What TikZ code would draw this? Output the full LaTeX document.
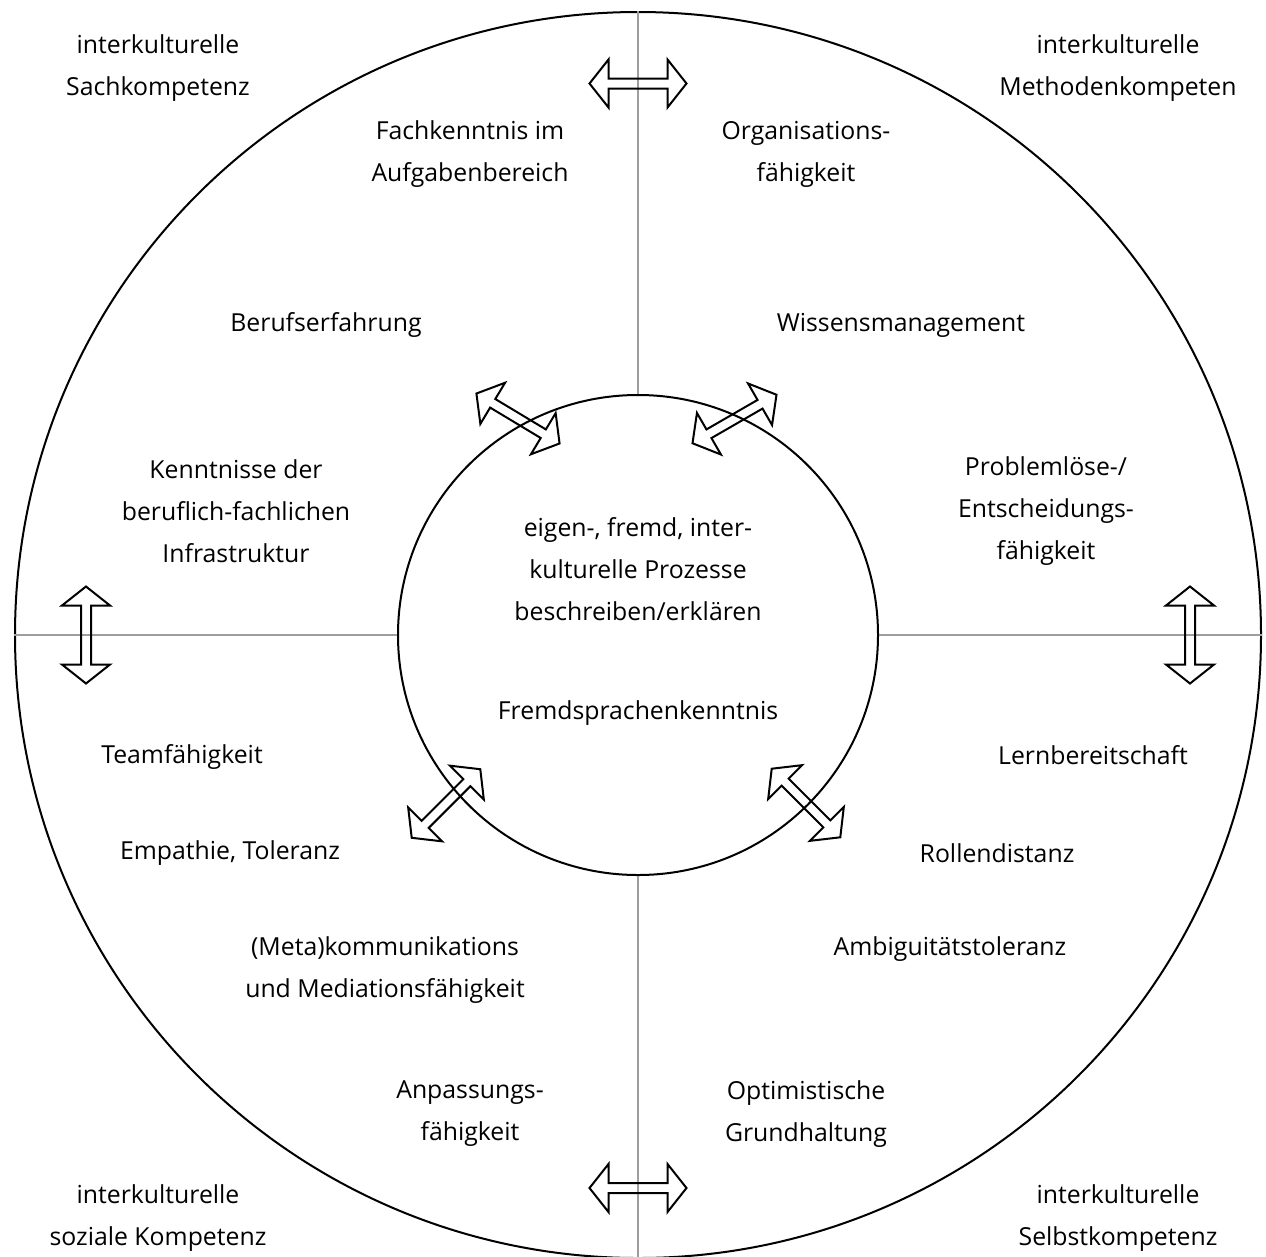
\documentclass[tikz,border=0pt]{standalone}
\usepackage{fontspec}
\setmainfont{Open Sans}
\begin{document}
\begin{tikzpicture}[x=1pt,y=-1pt,
  lbl/.style={align=center, font=\fontsize{24.8}{42}\selectfont, inner sep=0pt},
  ring/.style={circle, draw=black, line width=2pt, inner sep=0pt},
  axis/.style={draw=black!38, line width=1.6pt},
  arrowline/.style={draw=black, line width=2pt, line join=miter},
  dblarrow/.pic={\draw[arrowline] (-48.5,0) -- (-29.5,24) -- (-29.5,5) -- (29.5,5) -- (29.5,24) -- (48.5,0) -- (29.5,-24) -- (29.5,-5) -- (-29.5,-5) -- (-29.5,-24) -- cycle;}]
\clip (0,0) rectangle (1266,1256);
\fill[white] (0,0) rectangle (1266,1256);
\node[ring, minimum size=1246pt] (outer) at (638,635) {};
\node[ring, minimum size=480pt] (inner) at (638,635) {};
\draw[axis] (outer.north) -- (inner.north);
\draw[axis] (inner.south) -- (outer.south);
\draw[axis] (outer.west) -- (inner.west);
\draw[axis] (inner.east) -- (outer.east);
% block double arrows
\pic at (638,83.5) {dblarrow};
\pic at (638,1188) {dblarrow};
\pic[rotate=90] at (86,635) {dblarrow};
\pic[rotate=90] at (1190,635) {dblarrow};
\pic[rotate=-31] at (518,418.5) {dblarrow};
\pic[rotate=30] at (734.5,419) {dblarrow};
\pic[rotate=45] at (446,803.5) {dblarrow};
\pic[rotate=-45] at (806,803) {dblarrow};
% labels
\node[lbl] (sach) at (158,68) {interkulturelle\\Sachkompetenz};
\node[lbl] (meth) at (1118,68) {interkulturelle\\Methodenkompeten};
\node[lbl] (sozi) at (158,1218) {interkulturelle\\soziale Kompetenz};
\node[lbl] (selb) at (1118,1218) {interkulturelle\\Selbstkompetenz};
\node[lbl] (fach) at (470,154) {Fachkenntnis im\\Aufgabenbereich};
\node[lbl] (orga) at (806,154) {Organisations-\\fähigkeit};
\node[lbl] (beru) at (326,325) {Berufserfahrung};
\node[lbl] (wiss) at (901,325) {Wissensmanagement};
\node[lbl] (kenn) at (236,511) {Kenntnisse der\\beruflich-fachlichen\\Infrastruktur};
\node[lbl] (prob) at (1046,511) {Problemlöse-/\\Entscheidungs-\\fähigkeit};
\node[lbl] (eige) at (638,569) {eigen-, fremd, inter-\\kulturelle Prozesse\\beschreiben/erklären};
\node[lbl] (frem) at (638,713) {Fremdsprachenkenntnis};
\node[lbl] (team) at (182,757) {Teamfähigkeit};
\node[lbl] (lern) at (1093,755) {Lernbereitschaft};
\node[lbl] (empa) at (230,853) {Empathie, Toleranz};
\node[lbl] (roll) at (997,853) {Rollendistanz};
\node[lbl] (meta) at (385,970) {(Meta)kommunikations\\und Mediationsfähigkeit};
\node[lbl] (ambi) at (950,949) {Ambiguitätstoleranz};
\node[lbl] (anpa) at (470,1114) {Anpassungs-\\fähigkeit};
\node[lbl] (opti) at (806,1114) {Optimistische\\Grundhaltung};
\end{tikzpicture}
\end{document}
